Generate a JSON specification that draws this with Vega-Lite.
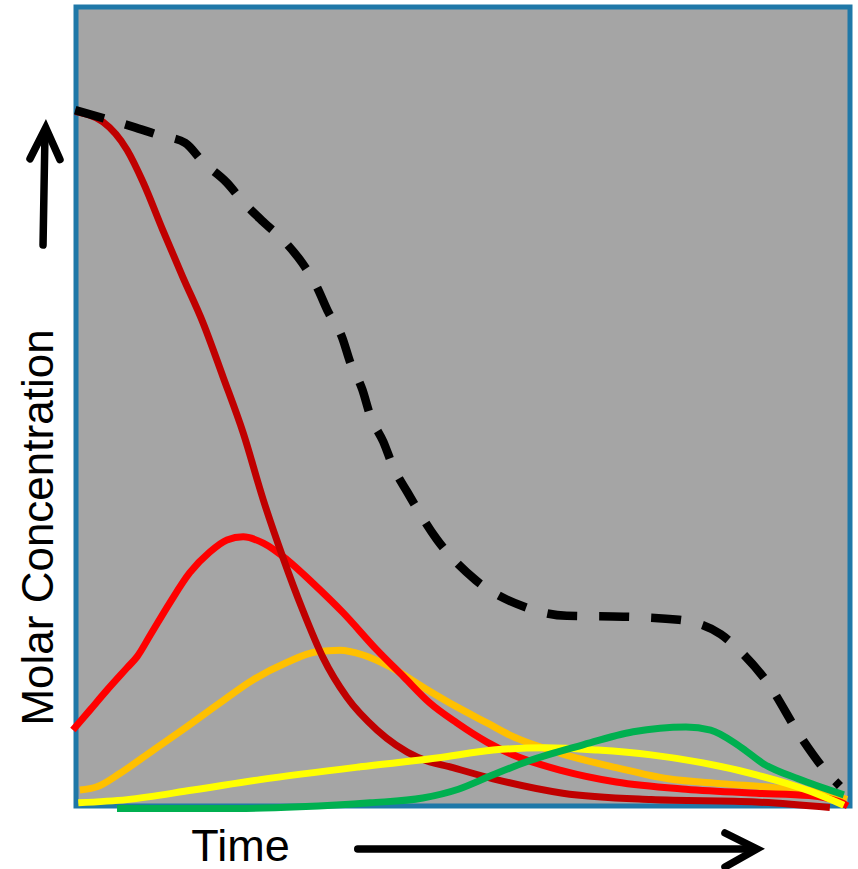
{
  "$schema": "https://vega.github.io/schema/vega-lite/v6.json",
  "width": 774,
  "height": 799,
  "autosize": {"type": "none"},
  "padding": {"left": 76, "top": 7, "right": 8, "bottom": 63},
  "background": "white",
  "config": {
    "view": {"fill": "#a5a5a5", "stroke": "#1f78a8", "strokeWidth": 5},
    "axis": {"domain": false, "ticks": false, "labels": false, "grid": false, "titleFont": "Liberation Sans", "titleFontWeight": "normal", "titleColor": "black"},
    "axisX": {"titleFontSize": 45, "titleX": 164, "titleY": 54, "titleAlign": "center", "titleBaseline": "alphabetic"},
    "axisY": {"titleFontSize": 44, "titleX": -24, "titleY": 520, "titleAlign": "center", "titleBaseline": "alphabetic", "titleAngle": -90}
  },
  "datasets": {
    "curves": [
      {"s": "A", "t": -0.1, "c": 86.9}, {"s": "A", "t": 3.5, "c": 85.6}, {"s": "A", "t": 6.6, "c": 82.1}, {"s": "A", "t": 8.7, "c": 78.0}, {"s": "A", "t": 11.2, "c": 72.1}, {"s": "A", "t": 13.8, "c": 66.2}, {"s": "A", "t": 16.4, "c": 60.5}, {"s": "A", "t": 19.0, "c": 53.7}, {"s": "A", "t": 21.6, "c": 46.7}, {"s": "A", "t": 24.2, "c": 38.3}, {"s": "A", "t": 26.7, "c": 31.2}, {"s": "A", "t": 29.3, "c": 24.5}, {"s": "A", "t": 31.9, "c": 18.6}, {"s": "A", "t": 35.0, "c": 13.6}, {"s": "A", "t": 38.9, "c": 9.5}, {"s": "A", "t": 44.1, "c": 6.1}, {"s": "A", "t": 48.7, "c": 4.8}, {"s": "A", "t": 53.9, "c": 3.4}, {"s": "A", "t": 62.9, "c": 1.6}, {"s": "A", "t": 74.3, "c": 0.8}, {"s": "A", "t": 87.9, "c": 0.5}, {"s": "A", "t": 97.4, "c": -0.2},
      {"s": "B", "t": -0.4, "c": 9.5}, {"s": "B", "t": 1.8, "c": 12.0}, {"s": "B", "t": 4.0, "c": 14.5}, {"s": "B", "t": 6.6, "c": 17.3}, {"s": "B", "t": 7.9, "c": 18.7}, {"s": "B", "t": 9.6, "c": 21.4}, {"s": "B", "t": 12.1, "c": 25.4}, {"s": "B", "t": 14.7, "c": 29.2}, {"s": "B", "t": 17.3, "c": 31.8}, {"s": "B", "t": 19.5, "c": 33.3}, {"s": "B", "t": 21.6, "c": 33.7}, {"s": "B", "t": 24.2, "c": 32.9}, {"s": "B", "t": 27.3, "c": 30.8}, {"s": "B", "t": 30.6, "c": 27.9}, {"s": "B", "t": 34.5, "c": 24.2}, {"s": "B", "t": 38.9, "c": 19.5}, {"s": "B", "t": 42.3, "c": 16.2}, {"s": "B", "t": 45.7, "c": 12.9}, {"s": "B", "t": 49.2, "c": 10.4}, {"s": "B", "t": 53.1, "c": 8.0}, {"s": "B", "t": 56.2, "c": 6.5}, {"s": "B", "t": 62.9, "c": 4.4}, {"s": "B", "t": 69.8, "c": 3.0}, {"s": "B", "t": 78.8, "c": 2.1}, {"s": "B", "t": 87.9, "c": 1.6}, {"s": "B", "t": 94.7, "c": 1.3}, {"s": "B", "t": 98.7, "c": 0.5}, {"s": "B", "t": 99.7, "c": 0.0},
      {"s": "C", "t": 0.5, "c": 2.0}, {"s": "C", "t": 2.7, "c": 2.4}, {"s": "C", "t": 5.7, "c": 4.1}, {"s": "C", "t": 10.0, "c": 7.0}, {"s": "C", "t": 14.3, "c": 9.9}, {"s": "C", "t": 18.6, "c": 12.9}, {"s": "C", "t": 22.9, "c": 15.8}, {"s": "C", "t": 27.3, "c": 18.0}, {"s": "C", "t": 31.1, "c": 19.3}, {"s": "C", "t": 34.1, "c": 19.5}, {"s": "C", "t": 37.1, "c": 18.9}, {"s": "C", "t": 40.6, "c": 17.4}, {"s": "C", "t": 44.8, "c": 14.9}, {"s": "C", "t": 49.2, "c": 12.4}, {"s": "C", "t": 53.1, "c": 10.4}, {"s": "C", "t": 56.2, "c": 8.8}, {"s": "C", "t": 62.9, "c": 6.5}, {"s": "C", "t": 69.8, "c": 4.8}, {"s": "C", "t": 76.5, "c": 3.4}, {"s": "C", "t": 83.3, "c": 2.8}, {"s": "C", "t": 90.2, "c": 2.3}, {"s": "C", "t": 96.9, "c": 1.6}, {"s": "C", "t": 99.6, "c": 0.8},
      {"s": "D", "t": 0.3, "c": 0.4}, {"s": "D", "t": 6.6, "c": 0.8}, {"s": "D", "t": 15.1, "c": 2.0}, {"s": "D", "t": 23.8, "c": 3.3}, {"s": "D", "t": 36.7, "c": 4.9}, {"s": "D", "t": 46.6, "c": 6.0}, {"s": "D", "t": 53.9, "c": 7.0}, {"s": "D", "t": 60.7, "c": 7.3}, {"s": "D", "t": 67.4, "c": 7.0}, {"s": "D", "t": 74.3, "c": 6.4}, {"s": "D", "t": 81.0, "c": 5.4}, {"s": "D", "t": 87.9, "c": 3.9}, {"s": "D", "t": 94.7, "c": 1.9}, {"s": "D", "t": 99.2, "c": 0.1},
      {"s": "E", "t": 5.3, "c": -0.3}, {"s": "E", "t": 20.8, "c": -0.3}, {"s": "E", "t": 28.9, "c": -0.1}, {"s": "E", "t": 38.0, "c": 0.4}, {"s": "E", "t": 44.8, "c": 1.0}, {"s": "E", "t": 49.4, "c": 2.1}, {"s": "E", "t": 53.9, "c": 3.9}, {"s": "E", "t": 58.4, "c": 5.6}, {"s": "E", "t": 65.3, "c": 7.6}, {"s": "E", "t": 72.0, "c": 9.3}, {"s": "E", "t": 78.8, "c": 9.9}, {"s": "E", "t": 82.0, "c": 9.5}, {"s": "E", "t": 85.7, "c": 7.5}, {"s": "E", "t": 88.8, "c": 5.3}, {"s": "E", "t": 93.3, "c": 3.4}, {"s": "E", "t": 99.2, "c": 1.4},
      {"s": "Total", "t": -0.1, "c": 87.1}, {"s": "Total", "t": 3.5, "c": 86.1}, {"s": "Total", "t": 7.4, "c": 85.0}, {"s": "Total", "t": 10.6, "c": 84.0}, {"s": "Total", "t": 14.1, "c": 83.0}, {"s": "Total", "t": 16.4, "c": 80.6}, {"s": "Total", "t": 19.5, "c": 78.0}, {"s": "Total", "t": 21.6, "c": 75.6}, {"s": "Total", "t": 24.2, "c": 73.1}, {"s": "Total", "t": 27.0, "c": 70.6}, {"s": "Total", "t": 29.2, "c": 68.0}, {"s": "Total", "t": 31.1, "c": 65.0}, {"s": "Total", "t": 32.6, "c": 61.8}, {"s": "Total", "t": 34.4, "c": 58.6}, {"s": "Total", "t": 35.4, "c": 55.6}, {"s": "Total", "t": 37.0, "c": 52.1}, {"s": "Total", "t": 38.0, "c": 48.9}, {"s": "Total", "t": 39.7, "c": 45.6}, {"s": "Total", "t": 41.0, "c": 42.4}, {"s": "Total", "t": 42.8, "c": 39.3}, {"s": "Total", "t": 46.6, "c": 33.4}, {"s": "Total", "t": 51.6, "c": 28.3}, {"s": "Total", "t": 58.0, "c": 24.9}, {"s": "Total", "t": 63.4, "c": 23.8}, {"s": "Total", "t": 70.7, "c": 23.7}, {"s": "Total", "t": 77.9, "c": 23.3}, {"s": "Total", "t": 83.3, "c": 21.5}, {"s": "Total", "t": 85.7, "c": 19.5}, {"s": "Total", "t": 89.3, "c": 15.5}, {"s": "Total", "t": 93.8, "c": 8.4}, {"s": "Total", "t": 96.5, "c": 4.8}, {"s": "Total", "t": 98.7, "c": 2.5}
    ],
    "arrows": [
      {"seg": "vshaft", "k": 1, "t": -4.26, "c": 70.2}, {"seg": "vshaft", "k": 2, "t": -4.01, "c": 84.0},
      {"seg": "vhead", "k": 1, "t": -5.94, "c": 81.0}, {"seg": "vhead", "k": 2, "t": -3.91, "c": 84.9}, {"seg": "vhead", "k": 3, "t": -2.07, "c": 80.9},
      {"seg": "hshaft", "k": 1, "t": 36.4, "c": -5.38}, {"seg": "hshaft", "k": 2, "t": 87.4, "c": -5.38},
      {"seg": "hhead", "k": 1, "t": 83.85, "c": -3.38}, {"seg": "hhead", "k": 2, "t": 87.98, "c": -5.38}, {"seg": "hhead", "k": 3, "t": 83.85, "c": -7.63}
    ]
  },
  "encoding": {
    "x": {"field": "t", "type": "quantitative", "title": "Time", "scale": {"domain": [0, 100], "nice": false, "zero": false}},
    "y": {"field": "c", "type": "quantitative", "title": "Molar Concentration", "scale": {"domain": [0, 100], "nice": false, "zero": false}}
  },
  "layer": [
    {"data": {"name": "curves"}, "transform": [{"filter": "datum.s === 'C'"}], "mark": {"type": "line", "interpolate": "monotone", "color": "#ffc000", "strokeWidth": 7, "clip": false}},
    {"data": {"name": "curves"}, "transform": [{"filter": "datum.s === 'B'"}], "mark": {"type": "line", "interpolate": "monotone", "color": "#ff0000", "strokeWidth": 7, "clip": false}},
    {"data": {"name": "curves"}, "transform": [{"filter": "datum.s === 'A'"}], "mark": {"type": "line", "interpolate": "monotone", "color": "#c00000", "strokeWidth": 7, "clip": false}},
    {"data": {"name": "curves"}, "transform": [{"filter": "datum.s === 'D'"}], "mark": {"type": "line", "interpolate": "monotone", "color": "#ffff00", "strokeWidth": 7, "clip": false}},
    {"data": {"name": "curves"}, "transform": [{"filter": "datum.s === 'E'"}], "mark": {"type": "line", "interpolate": "monotone", "color": "#00b050", "strokeWidth": 7, "clip": false}},
    {"data": {"name": "curves"}, "transform": [{"filter": "datum.s === 'Total'"}], "mark": {"type": "line", "interpolate": "monotone", "color": "black", "strokeWidth": 8.5, "strokeDash": [30, 22], "clip": false}},
    {"data": {"name": "arrows"}, "mark": {"type": "line", "color": "black", "strokeWidth": 7.5, "strokeCap": "round", "strokeJoin": "miter", "clip": false}, "encoding": {"detail": {"field": "seg"}, "order": {"field": "k", "type": "quantitative"}}}
  ]
}
